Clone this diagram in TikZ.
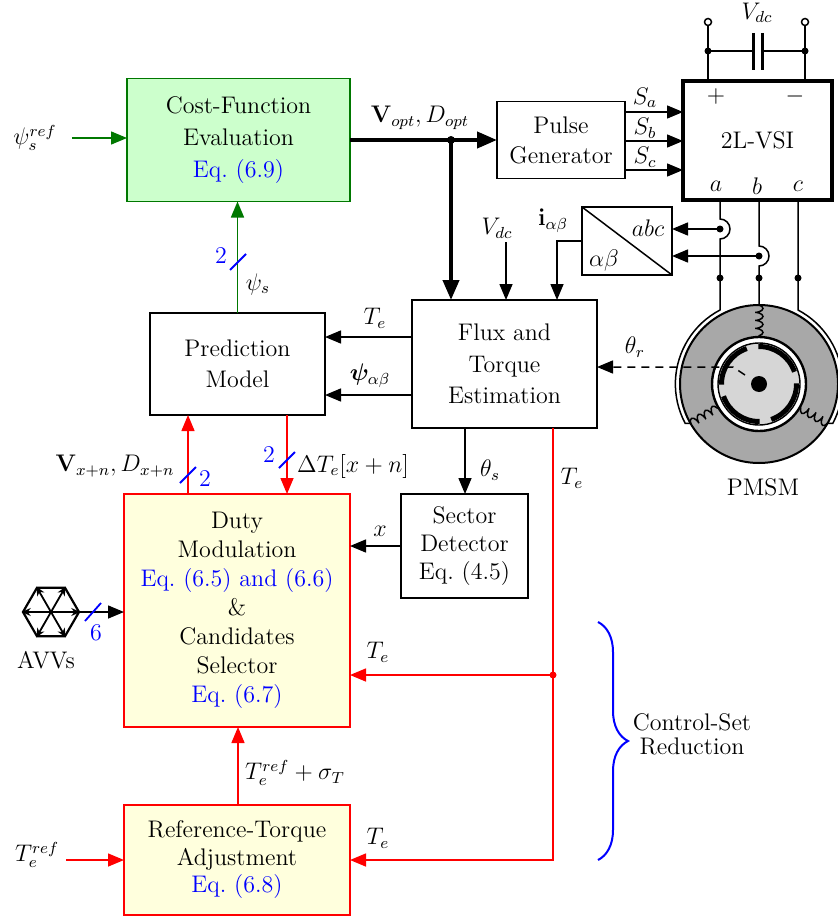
\documentclass[tikz,border=0pt]{standalone}
\usepackage{bm}
\usetikzlibrary{arrows.meta,calc,shapes.geometric,decorations.pathmorphing,decorations.pathreplacing}
\definecolor{boxgreen}{RGB}{204,255,204}
\definecolor{linegreen}{RGB}{0,120,0}
\definecolor{boxyellow}{RGB}{255,255,221}
\definecolor{statorgray}{RGB}{168,168,168}
\definecolor{rotorgray}{RGB}{214,214,214}
\begin{document}
\begin{tikzpicture}[x=0.5pt,y=-0.5pt,line width=0.75pt,
  >={Triangle[length=8pt,width=6.5pt]},
  font=\fontsize{12}{15}\selectfont,
  block/.style={draw,align=center,inner sep=0pt,outer sep=0pt},
  gblock/.style={block,draw=linegreen,fill=boxgreen},
  yblock/.style={block,draw=red,fill=boxyellow},
  slashmark/.style={blue,line width=0.9pt},
  bignum/.style={text=blue,inner sep=1pt},
  thickarrow/.style={line width=2pt,-{Triangle[length=10pt,width=8pt]}},
  winding/.style={decorate,decoration={coil,aspect=0.35,amplitude=2pt,segment length=4pt}}
]
\useasboundingbox (0,0) rectangle (838,920);

% ---------------- blocks ----------------
\node[gblock,minimum width=111.5pt,minimum height=61.5pt,font=\fontsize{12}{16}\selectfont]
  (cost) at (238.5,140) {Cost-Function\\Evaluation\\\textcolor{blue}{Eq.~(6.9)}};
\node[block,minimum width=87.5pt,minimum height=51pt,font=\fontsize{12}{15.5}\selectfont]
  (pred) at (237.5,364) {Prediction\\Model};
\node[block,minimum width=92.5pt,minimum height=64pt,font=\fontsize{12}{15.75}\selectfont]
  (flux) at (504.5,364) {Flux and\\Torque\\Estimation};
\node[block,minimum width=64pt,minimum height=38.5pt] (pulse) at (561,140) {Pulse\\Generator};
\node[block,line width=2pt,minimum width=74.5pt,minimum height=59pt] (vsi) at (757.5,140.5) {2L-VSI};
\node[block,minimum width=45pt,minimum height=34pt] (conv) at (627,241) {};
\node[block,minimum width=63.5pt,minimum height=52pt,font=\fontsize{12}{14}\selectfont]
  (sector) at (464.5,546) {Sector\\Detector\\Eq.~(4.5)};
\node[yblock,minimum width=113pt,minimum height=116.5pt,font=\fontsize{12}{14.5}\selectfont]
  (duty) at (237,610.5) {Duty\\Modulation\\\textcolor{blue}{Eq.~(6.5) and (6.6)}\\\&\\Candidates\\Selector\\\textcolor{blue}{Eq.~(6.7)}};
\node[yblock,minimum width=113pt,minimum height=55pt,font=\fontsize{12}{13.75}\selectfont]
  (reft) at (237,860) {Reference-Torque\\Adjustment\\\textcolor{blue}{Eq.~(6.8)}};

% inverter terminals
\node (vplus) at (716,97) {$+$};
\node (vminus) at (795,97) {$-$};
\node (pa) at (716,186) {$a$};
\node (pb) at (757,186) {$b$};
\node (pc) at (798,186) {$c$};

% abc / alpha-beta transformation
\draw (conv.north west) -- (conv.south east);
\node (abclbl) at (648,228) {$abc$};
\node (ablbl) at (604,260) {$\alpha\beta$};

% ---------------- DC link ----------------
\draw (708,22) -- (vsi.north -| 708,0);
\draw (805,22) -- (vsi.north -| 805,0);
\draw (708,51) -- (753,51) (762,51) -- (805,51);
\draw[line width=1.5pt] (753,33) -- (753,70) (762,33) -- (762,70);
\fill (708,51) circle[radius=3.5] (805,51) circle[radius=3.5];
\draw[fill=white] (708,22) circle[radius=3.5] (805,22) circle[radius=3.5];
\node (vdctop) at (757,13) {$V_{dc}$};

% ---------------- PMSM ----------------
\coordinate (M) at (759,384);
\draw[fill=statorgray,line width=1pt] (M) circle[radius=79];
\draw[fill=white,line width=1.2pt] (M) circle[radius=47];
\draw[fill=rotorgray,line width=0.7pt] (M) circle[radius=41];
\foreach \c [evaluate=\c as \s using \c-36, evaluate=\c as \e using \c+36] in {-55,35,125,215}
  \draw[line width=2.5pt] ($(M)+(\s:37.5)$) arc[start angle=\s,end angle=\e,radius=37.5];
\fill (M) circle[radius=8];
% stator windings
\draw[winding] ($(M)+(270:79)$) -- ($(M)+(270:47)$);
\draw[winding] ($(M)+(150:79)$) -- ($(M)+(150:47)$);
\draw[winding] ($(M)+(30:79)$) -- ($(M)+(30:47)$);
% phase leads with current sensors
\draw (vsi.south -| 720,0) -- (720,219) arc[start angle=-90,end angle=90,radius=10]
  -- (720,310) arc[start angle=242.2,end angle=152,radius=83.65] -- ($(M)+(150:79)$);
\draw (vsi.south -| 759,0) -- (759,246) arc[start angle=-90,end angle=90,radius=10]
  -- ($(M)+(270:79)$);
\draw (vsi.south -| 798,0) -- (798,310) arc[start angle=297.8,end angle=388,radius=83.65]
  -- ($(M)+(30:79)$);
\fill (720,229) circle[radius=3.5] (759,256) circle[radius=3.5];
\fill (720,278) circle[radius=3.5] (759,278) circle[radius=3.5] (798,278) circle[radius=3.5];
\draw[->] (720,229) -- (conv.east |- 0,229);
\draw[->] (759,256) -- (conv.east |- 0,256);
\node (pmsm) at (763,487) {PMSM};

% rotor angle feedback
\draw[dash pattern=on 4pt off 3pt,->] (745,375) -- (733,367) -- (flux.east |- 0,367);
\node (thr) at (635,347) {$\theta_r$};

% ---------------- signal paths ----------------
\node (psiref) at (35,138) {$\psi_s^{ref}$};
\draw[linegreen,->] ([xshift=4pt]psiref.east) -- (cost.west |- psiref.east);

\node (voptlbl) at (420,118) {$\mathbf{V}_{opt}, D_{opt}$};
\draw[thickarrow] (cost.east) -- (pulse.west);
\coordinate (vj) at (451,140);
\draw[thickarrow] (vj) -- (flux.north -| vj);
\fill (vj) circle[radius=4];

\draw[->] (pulse.east |- 0,112) -- (vsi.west |- 0,112);
\draw[->] (pulse.east |- 0,141) -- (vsi.west |- 0,141);
\draw[->] (pulse.east |- 0,170) -- (vsi.west |- 0,170);
\node (sa) at (645,98) {$S_a$};
\node (sb) at (645,128) {$S_b$};
\node (sc) at (645,157) {$S_c$};

\node (vdclbl) at (497,228) {$V_{dc}$};
\draw[->] (506,242) -- (flux.north -| 506,0);
\node (iab) at (553,221) {$\mathbf{i}_{\alpha\beta}$};
\draw[->] (conv.west) -| (flux.north -| 557,0);

\draw[->] (flux.west |- 0,337) -- (pred.east |- 0,337);
\node (te1) at (375,318) {$T_e$};
\draw[->] (flux.west |- 0,395) -- (pred.east |- 0,395);
\node (psiab) at (370,376) {$\bm{\psi}_{\alpha\beta}$};

\draw[linegreen,line width=0.85pt,->] (pred.north) -- (pred.north |- cost.south);
\draw[slashmark] (230,270) -- (246,254);
\node[bignum] (n2a) at (221,256) {2};
\node (psis) at (258,284) {$\psi_s$};

\draw[->] (flux.south -| 465,0) -- (sector.north -| 465,0);
\node (ths) at (490,470) {$\theta_s$};
\draw[->] (sector.west) -- (duty.east |- sector.west);
\node (xlbl) at (380,531) {$x$};

\draw[red,->] (duty.north -| 188,0) -- (pred.south -| 188,0);
\node (vxn) at (115,466) {$\mathbf{V}_{x+n}, D_{x+n}$};
\draw[slashmark] (180,483) -- (196,467);
\node[bignum] (n2b) at (205,479) {2};
\draw[red,->] (pred.south -| 287,0) -- (duty.north -| 287,0);
\draw[slashmark] (279,468) -- (295,452);
\node[bignum] (n2c) at (269,455) {2};
\node (dte) at (353,466) {$\Delta T_e[x+n]$};

\coordinate (tej) at (553,675);
\draw[red,->] (flux.south -| tej) |- (reft.east);
\draw[red,->] (tej) -- (duty.east |- tej);
\fill[red] (tej) circle[radius=3.5];
\node (te2) at (572,478) {$T_e$};
\node (te3) at (378,652) {$T_e$};
\node (te4) at (378,838) {$T_e$};

\draw[red,->] (reft.north -| 238,0) -- (duty.south -| 238,0);
\node (tesig) at (295,773) {$T_e^{ref}+\sigma_T$};

\node (tref) at (37,855) {$T_e^{ref}$};
\draw[red,->] (tref.east |- reft.west) -- (reft.west);

% active voltage vectors
\node[draw,regular polygon,regular polygon sides=6,minimum size=28pt,inner sep=0pt,line width=1.1pt] (hex) at (51,612) {};
\foreach \k in {1,...,6}
  \draw[-{Stealth[length=4.5pt,width=4pt]},line width=0.9pt] (hex.center) -- (hex.corner \k);
\node (avvs) at (46,660) {AVVs};
\draw[->] (hex.east) -- (duty.west |- hex.east);
\draw[slashmark] (85,621) -- (101,603);
\node[bignum] (n6) at (96,633) {6};

% control-set reduction brace
\draw[blue,line width=1pt,decorate,decoration={brace,amplitude=15pt}] (598,622) -- (598,860);
\node[align=center,font=\fontsize{12}{12}\selectfont] (csr) at (692,734) {Control-Set\\Reduction};
\end{tikzpicture}
\end{document}
